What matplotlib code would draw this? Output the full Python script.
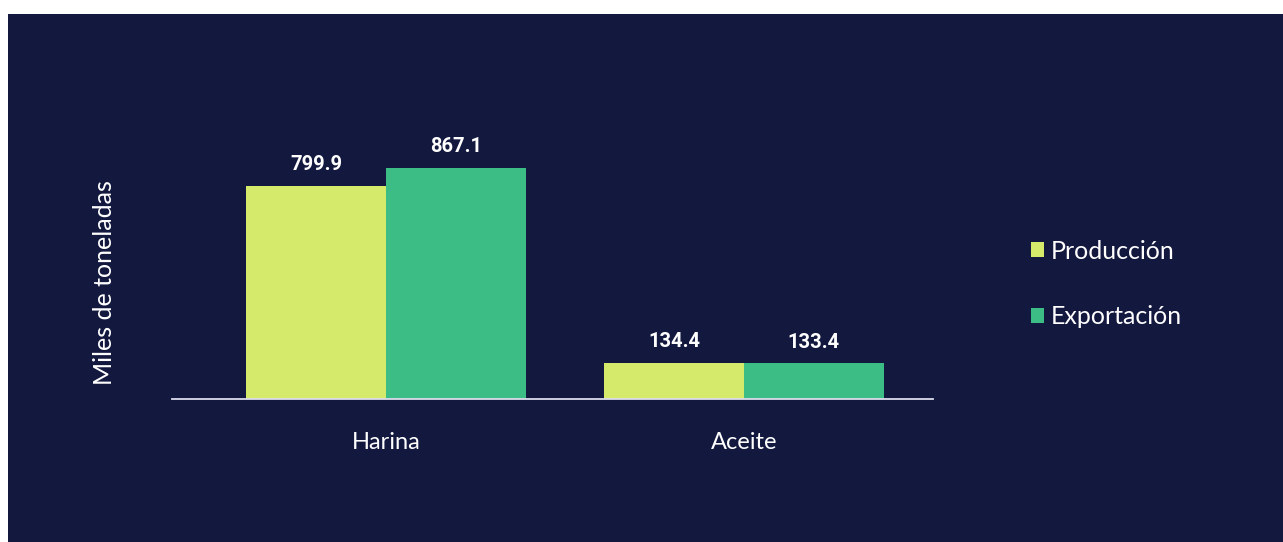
import matplotlib
matplotlib.use("Agg")
import matplotlib.pyplot as plt
from matplotlib.patches import Rectangle
import numpy as np

categories = ["Harina", "Aceite"]
series_names = ["Producción", "Exportación"]
produccion = [799.9, 134.4]
exportacion = [867.1, 133.4]
value_labels_prod = ["799.9", "134.4"]
value_labels_exp = ["867.1", "133.4"]

BG = "#13183f"
C_PROD = "#d5ea6b"
C_EXP = "#3dbd86"

fig = plt.figure(figsize=(12.83, 5.42), dpi=100, facecolor="white")
# dark panel
fig.patches.append(Rectangle((8 / 1283, 0), 1, 1 - 14 / 542, transform=fig.transFigure,
                             facecolor=BG, edgecolor="none", zorder=-10))

ax = fig.add_axes([172 / 1283, 1 - 399 / 542, (933 - 172) / 1283, (399 - 60) / 542])
ax.set_facecolor("none")

x = np.arange(len(categories))
w = 0.39
b1 = ax.bar(x - w / 2, produccion, width=w, color=C_PROD, label=series_names[0])
b2 = ax.bar(x + w / 2, exportacion, width=w, color=C_EXP, label=series_names[1])

vfont = dict(family=["Roboto", "DejaVu Sans"], weight="bold", size=14.5, color="white")
for xi, v, t in zip(x - w / 2, produccion, value_labels_prod):
    ax.text(xi, v + 44, t, ha="center", va="bottom", **vfont)
for xi, v, t in zip(x + w / 2, exportacion, value_labels_exp):
    ax.text(xi, v + 44, t, ha="center", va="bottom", **vfont)

ax.set_xlim(-0.598, 1.528)
ax.set_ylim(0, 1272)
ax.set_xticks(x)
ax.set_xticklabels(categories, family=["Lato", "DejaVu Sans"], fontsize=17, color="white")
ax.tick_params(axis="x", length=0, pad=24)
ax.set_yticks([])
for s in ["top", "right", "left"]:
    ax.spines[s].set_visible(False)
ax.spines["bottom"].set_color("#dcdcec")
ax.spines["bottom"].set_linewidth(1.3)

fig.text(105 / 1283, 1 - 283 / 542, "Miles de toneladas", rotation=90, ha="center", va="center",
         family=["Lato", "DejaVu Sans"], fontsize=18, color="white")

leg = fig.legend(handles=[b1, b2], labels=series_names, loc="center left",
                 bbox_to_anchor=(1008 / 1283, 1 - 284 / 542), frameon=False,
                 prop=dict(family=["Lato", "DejaVu Sans"], size=18),
                 handlelength=0.55, handleheight=0.55, handletextpad=0.25, labelspacing=1.7)
for t in leg.get_texts():
    t.set_color("white")

fig.savefig("out.png", dpi=100, facecolor=fig.get_facecolor())
